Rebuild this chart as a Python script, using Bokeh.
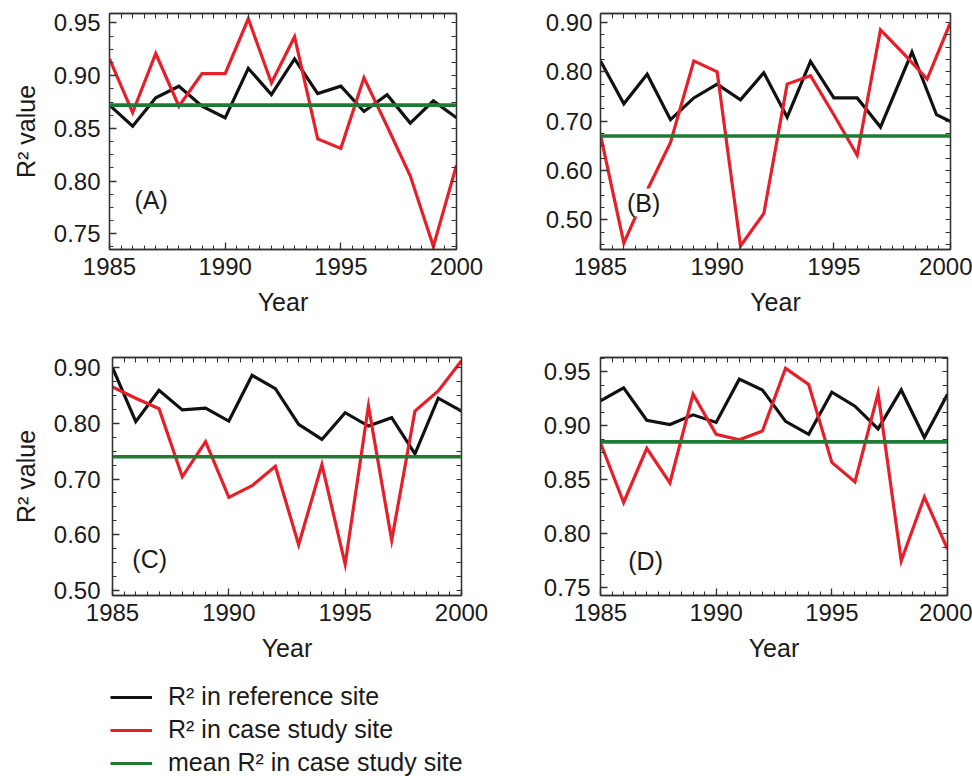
from bokeh.plotting import figure
from bokeh.models import (Range1d, FixedTicker, LinearAxis, PrintfTickFormatter,
                          Label, Legend, LegendItem, Span)
from bokeh.layouts import column, row
from bokeh.embed import file_html
from bokeh.resources import INLINE

# ---------------- data ----------------
years = list(range(1985, 2001))
x_ticks = [1985, 1990, 1995, 2000]

a_ref = [0.872, 0.852, 0.879, 0.890, 0.871, 0.860, 0.907, 0.882, 0.916, 0.883,
         0.890, 0.866, 0.882, 0.855, 0.876, 0.860]
a_case = [0.916, 0.865, 0.921, 0.871, 0.902, 0.902, 0.954, 0.893, 0.937, 0.840,
          0.831, 0.898, 0.852, 0.805, 0.738, 0.815]
a_mean = 0.872

b_ref_years = [1985, 1986, 1987, 1988, 1989, 1990, 1991, 1992, 1993, 1994,
               1995, 1996, 1997, 1998.35, 1999.4, 2000]
b_ref = [0.822, 0.735, 0.795, 0.703, 0.747, 0.775, 0.743, 0.798, 0.708, 0.821,
         0.747, 0.747, 0.688, 0.840, 0.713, 0.699]
b_case = [0.672, 0.453, 0.560, 0.657, 0.822, 0.800, 0.447, 0.513, 0.775, 0.792,
          0.713, 0.631, 0.885, 0.836, 0.785, 0.900]
b_mean = 0.670

c_ref = [0.900, 0.803, 0.859, 0.824, 0.827, 0.804, 0.886, 0.862, 0.798, 0.771,
         0.819, 0.795, 0.810, 0.745, 0.845, 0.822]
c_case = [0.865, 0.845, 0.826, 0.704, 0.767, 0.667, 0.688, 0.723, 0.582, 0.726,
          0.547, 0.831, 0.590, 0.822, 0.858, 0.912]
c_mean = 0.740

d_ref = [0.923, 0.935, 0.905, 0.901, 0.910, 0.903, 0.943, 0.933, 0.904, 0.892,
         0.931, 0.918, 0.897, 0.933, 0.889, 0.929]
d_case = [0.884, 0.829, 0.879, 0.847, 0.929, 0.892, 0.887, 0.895, 0.953, 0.938,
          0.866, 0.848, 0.930, 0.775, 0.834, 0.786]
d_mean = 0.885

a_yticks = [0.75, 0.80, 0.85, 0.90, 0.95]
b_yticks = [0.50, 0.60, 0.70, 0.80, 0.90]
c_yticks = [0.50, 0.60, 0.70, 0.80, 0.90]
d_yticks = [0.75, 0.80, 0.85, 0.90, 0.95]

legend_labels = ["R\u00b2 in reference site", "R\u00b2 in case study site",
                 "mean R\u00b2 in case study site"]
legend_sample_x = [0, 1]
legend_sample_y = [0.5, 0.5]

# ---------------- style ----------------
FONT = "Liberation Sans"
TXT = "#1a1a1a"
BLACK = "#111111"
RED = "#e5202a"
GREEN = "#1f7a34"
FRAME = "#333333"


def style_axis(ax, standoff=8):
    ax.axis_line_color = FRAME
    ax.axis_line_width = 1.3
    ax.major_tick_line_color = FRAME
    ax.minor_tick_line_color = FRAME
    ax.major_tick_line_width = 1.3
    ax.minor_tick_line_width = 1.1
    ax.major_tick_in = 7
    ax.major_tick_out = 0
    ax.minor_tick_in = 4
    ax.minor_tick_out = 0
    ax.major_label_text_font = FONT
    ax.major_label_text_color = TXT
    ax.major_label_text_font_size = "24px"
    ax.major_label_standoff = standoff
    ax.axis_label_text_font = FONT
    ax.axis_label_text_font_style = "normal"
    ax.axis_label_text_color = TXT
    ax.axis_label_text_font_size = "25px"


def mirror_axis(ticks):
    # tick marks only (no major ticks -> no labels drawn)
    ax = LinearAxis(ticker=FixedTicker(ticks=[], minor_ticks=ticks))
    ax.axis_line_color = FRAME
    ax.axis_line_width = 1.3
    ax.minor_tick_line_color = FRAME
    ax.minor_tick_line_width = 1.1
    ax.minor_tick_in = 5
    ax.minor_tick_out = 0
    ax.major_tick_out = 0
    ax.major_label_standoff = 0
    return ax


def panel(width, height, borders, yr, yticks, ref_x, ref, case, mean,
          tag, tag_xy, ylabel, ystandoff, tag_bg=False):
    left, right, top, bottom = borders
    step = yticks[1] - yticks[0]
    p = figure(width=width, height=height, x_range=Range1d(1985, 2000),
               y_range=Range1d(*yr), output_backend="svg", toolbar_location=None,
               min_border_left=left, min_border_right=right,
               min_border_top=top, min_border_bottom=bottom)
    p.grid.visible = False
    p.outline_line_color = FRAME
    p.outline_line_width = 1.3
    p.background_fill_color = "white"
    p.border_fill_color = "white"

    x_minor = [1985 + 0.5 * i for i in range(31)]
    lo = yticks[0] - step
    y_minor = [round(lo + step / 4 * i, 4) for i in range(4 * (len(yticks) + 2) + 1)]
    xt = FixedTicker(ticks=x_ticks, minor_ticks=x_minor)
    yt = FixedTicker(ticks=yticks, minor_ticks=y_minor)

    xa = p.xaxis[0]
    xa.ticker = xt
    xa.axis_label = "Year"
    xa.axis_label_standoff = 10
    style_axis(xa, 8)

    ya = p.yaxis[0]
    ya.ticker = yt
    ya.formatter = PrintfTickFormatter(format="%.2f")
    if ylabel:
        ya.axis_label = ylabel
        ya.axis_label_standoff = 11
    style_axis(ya, ystandoff)

    p.add_layout(mirror_axis(x_minor), "above")
    p.add_layout(mirror_axis(y_minor), "right")

    p.line(ref_x, ref, line_color=BLACK, line_width=3.2, line_join="miter")
    p.line(years, case, line_color=RED, line_width=3.2, line_join="miter")
    p.add_layout(Span(location=mean, dimension="width", line_color=GREEN,
                      line_width=3.6))

    lab = Label(x=tag_xy[0], y=tag_xy[1], text=tag, text_align="center",
                text_baseline="middle", text_font=FONT, text_font_size="25px",
                text_color=TXT)
    if tag_bg:
        lab.background_fill_color = "white"
    p.add_layout(lab)
    return p


pa = panel(490, 335, (109, 34, 13, 86), (0.735, 0.959), a_yticks, years, a_ref,
           a_case, a_mean, "(A)", (1986.8, 0.782), "R\u00b2 value", 9)
pb = panel(482, 335, (110, 22, 13, 83), (0.44, 0.918), b_yticks, b_ref_years,
           b_ref, b_case, b_mean, "(B)", (1986.85, 0.535), None, 8, tag_bg=True)
pc = panel(490, 335, (112, 29, 22, 75), (0.491, 0.918), c_yticks, years, c_ref,
           c_case, c_mean, "(C)", (1986.6, 0.557), "R\u00b2 value", 12)
pd = panel(482, 335, (110, 25, 22, 74), (0.743, 0.963), d_yticks, years, d_ref,
           d_case, d_mean, "(D)", (1986.95, 0.775), None, 10)

# ---------------- legend ----------------
pl = figure(width=972, height=106, x_range=Range1d(10, 11), y_range=Range1d(10, 11),
            output_backend="svg", toolbar_location=None, min_border=0,
            x_axis_location=None, y_axis_location=None)
pl.grid.visible = False
pl.outline_line_color = None
r1 = pl.line(legend_sample_x, legend_sample_y, line_color=BLACK, line_width=3)
r2 = pl.line(legend_sample_x, legend_sample_y, line_color=RED, line_width=3)
r3 = pl.line(legend_sample_x, legend_sample_y, line_color=GREEN, line_width=3)
leg = Legend(items=[LegendItem(label=legend_labels[0], renderers=[r1]),
                    LegendItem(label=legend_labels[1], renderers=[r2]),
                    LegendItem(label=legend_labels[2], renderers=[r3])],
             location=(110, -1), orientation="vertical", glyph_width=42,
             glyph_height=20, label_height=20, label_standoff=16, spacing=4,
             padding=0, margin=0, border_line_color=None,
             background_fill_alpha=0, label_text_font=FONT,
             label_text_font_size="25px", label_text_color=TXT)
pl.add_layout(leg)

layout = column(row(pa, pb), row(pc, pd), pl)
open("out.html", "w").write(file_html(layout, INLINE))
